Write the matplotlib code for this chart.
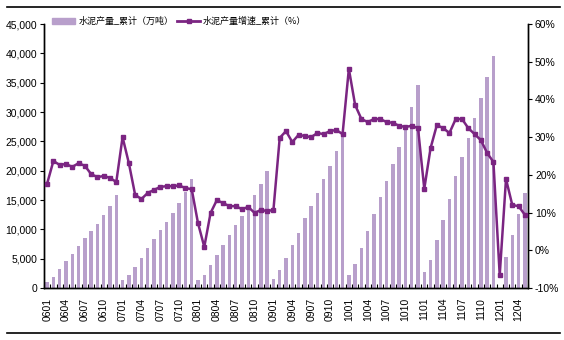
import matplotlib
matplotlib.use("Agg")
import matplotlib.pyplot as plt
import numpy as np
from matplotlib.ticker import FuncFormatter, FixedLocator
from matplotlib.lines import Line2D
from matplotlib.patches import Patch

months = [f"{y:02d}{m:02d}" for y in range(6, 12) for m in range(1, 13)] + ["1201", "1202", "1203", "1204", "1205"]

production = [
    1020, 1930, 3290, 4650, 5850, 7210, 8580, 9770, 10960, 12500, 14030, 15910,
    1420, 2270, 3630, 5170, 6870, 8400, 9940, 11300, 12840, 14540, 16420, 18640,
    1420, 2270, 3970, 5680, 7380, 9090, 10790, 12330, 13520, 15910, 17780, 20000,
    1590, 3120, 5170, 7380, 9430, 11990, 14030, 16250, 18640, 20860, 23410, 26310,
    2270, 4140, 6870, 9770, 12670, 15570, 18300, 21190, 24090, 27330, 30910, 34660,
    2780, 4830, 8240, 11650, 15230, 19150, 22390, 25630, 29040, 32450, 36030, 39610,
    np.nan, 5340, 9090, 12670, 16250,
]

growth = [
    17.7, 23.7, 22.6, 22.9, 22.1, 23.1, 22.4, 20.2, 19.4, 19.7, 19.2, 18.1,
    30.0, 23.1, 14.7, 13.6, 15.2, 16.0, 16.8, 17.0, 17.0, 17.2, 16.5, 16.2,
    7.2, 0.9, 9.9, 13.3, 12.5, 11.7, 11.7, 10.9, 11.5, 9.9, 10.7, 10.4,
    10.7, 29.8, 31.6, 28.7, 30.6, 30.3, 30.0, 31.1, 30.8, 31.6, 31.9, 30.8,
    48.1, 38.5, 34.8, 34.0, 34.8, 34.8, 34.0, 33.8, 33.0, 32.7, 33.0, 32.4,
    16.3, 27.1, 33.2, 32.4, 31.1, 34.8, 34.8, 32.4, 30.8, 29.2, 25.8, 23.4,
    -6.6, 18.9, 12.0, 11.7, 9.4,
]

bar_label = "水泥产量_累计（万吨）"
line_label = "水泥产量增速_累计（%）"

tick_font = "Liberation Sans"
plt.rcParams['font.family'] = ['Noto Sans CJK SC', 'DejaVu Sans']

bar_color = "#B89FCB"
line_color = "#7B2582"

fig = plt.figure(figsize=(5.64, 3.40), dpi=100)
ax = fig.add_axes([44/564, 1-288/340, (528-44)/564, (288-24)/340])
ax2 = ax.twinx()

x = np.arange(len(months))
ax.bar(x, production, width=0.55, color=bar_color, zorder=2)
ax2.plot(x, growth, color=line_color, lw=1.8, marker='s', ms=3.0, zorder=3)

ax.set_xlim(-0.5, len(months) - 0.5)
ax.set_ylim(0, 45000)
ax.set_yticks(np.arange(0, 45001, 5000))
ax.yaxis.set_major_formatter(FuncFormatter(lambda v, p: f"{int(v):,}"))
ax2.set_ylim(-10, 60)
ax2.set_yticks(np.arange(-10, 61, 10))
ax2.yaxis.set_major_formatter(FuncFormatter(lambda v, p: f"{int(v)}%"))

tick_idx = list(range(0, len(months), 3))
ax.set_xticks(tick_idx)
ax.set_xticklabels([months[i] for i in tick_idx], rotation=90, family=tick_font, fontsize=7.5)
ax.xaxis.set_minor_locator(FixedLocator(np.arange(-0.5, len(months), 1)))
ax.tick_params(axis='x', which='major', length=0, pad=7)
ax.tick_params(axis='x', which='minor', length=3, direction='in', width=0.8)
ax.tick_params(axis='y', length=3, direction='out', width=0.8, labelsize=7.5, pad=2)
ax2.tick_params(axis='y', length=3, direction='out', width=0.8, labelsize=7.5, pad=2)
for lab in ax.get_yticklabels() + ax2.get_yticklabels():
    lab.set_family(tick_font)

for a in (ax, ax2):
    a.spines['top'].set_visible(False)
    for s in ('left', 'right', 'bottom'):
        a.spines[s].set_linewidth(1.0)

handles = [Patch(color=bar_color, label=bar_label),
           Line2D([0], [0], color=line_color, lw=2, marker='s', ms=3, label=line_label)]
fig.legend(handles=handles, loc='upper left', bbox_to_anchor=(52/564, 1-17/340), ncol=2,
           frameon=False, fontsize=6.5, handlelength=2.6, handleheight=0.6, handletextpad=0.3,
           columnspacing=0.4, borderpad=0, borderaxespad=0)

fig.add_artist(Line2D([7/564, 560/564], [1-7/340, 1-7/340], color='black', lw=1.2))
fig.add_artist(Line2D([7/564, 560/564], [1-333/340, 1-333/340], color='black', lw=1.2))

fig.savefig("out.png", dpi=100)
